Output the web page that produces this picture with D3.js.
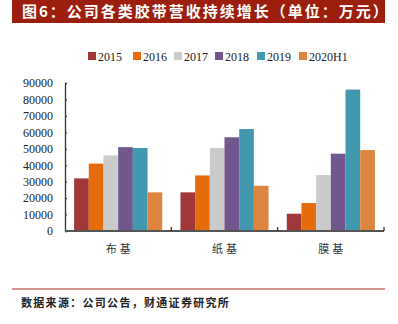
<!DOCTYPE html>
<html lang="zh">
<head>
<meta charset="UTF-8">
<title>公司各类胶带营收持续增长</title>
<script src="https://d3js.org/d3.v7.min.js"></script>
<style>
    body { margin: 0; background: #fff; }
    svg { display: block; }
</style>
</head>
<body>
<script>
    // data
    const categories = ["布基", "纸基", "膜基"];
    const years = ["2015", "2016", "2017", "2018", "2019", "2020H1"];
    const v2015 = [32000, 23500, 10500];
    const v2016 = [41000, 33800, 17000];
    const v2017 = [46000, 50500, 34000];
    const v2018 = [51000, 57000, 47000];
    const v2019 = [50500, 62000, 86000];
    const v2020H1 = [23500, 27500, 49200];
    const yTicks = [0, 10000, 20000, 30000, 40000, 50000, 60000, 70000, 80000, 90000];

    const series = [v2015, v2016, v2017, v2018, v2019, v2020H1];
    const colors = ["#a0383a", "#e46c0a", "#cbcbcb", "#72578f", "#4198af", "#dd853e"];

    const width = 398, height = 324;
    const margin = {top: 83, right: 14, bottom: 93, left: 65};

    const svg = d3.select("body").append("svg")
        .attr("width", width)
        .attr("height", height);

    // title banner
    svg.append("rect")
        .attr("x", 12).attr("y", 0)
        .attr("width", 373).attr("height", 23)
        .attr("fill", "#9c1e0d");
    svg.append("text")
        .attr("x", 22).attr("y", 17)
        .attr("fill", "#fff")
        .style("font-family", "'Noto Sans CJK SC'")
        .style("font-weight", "bold")
        .style("font-size", "15px")
        .style("letter-spacing", "2px")
        .text("图6：公司各类胶带营收持续增长（单位：万元）");

    const plotW = width - margin.left - margin.right;
    const plotH = height - margin.top - margin.bottom;
    const g = svg.append("g").attr("transform", `translate(${margin.left},${margin.top})`);

    const x0 = d3.scaleBand().domain(categories).range([0, plotW]);
    const x1 = d3.scaleBand().domain(years).range([0, x0.bandwidth()]).paddingOuter(0.62);
    const y = d3.scaleLinear().domain([0, 90000]).range([plotH, 0]);

    // y axis
    const yAxis = g.append("g")
        .call(d3.axisRight(y).tickValues(yTicks).tickSize(2).tickFormat(d => d3.format("d")(d)));
    yAxis.select(".domain").attr("stroke", "#333").attr("stroke-width", 1.3);
    yAxis.selectAll(".tick line").attr("stroke", "#333");
    yAxis.selectAll(".tick text")
        .attr("x", -12)
        .attr("text-anchor", "end")
        .attr("fill", "#222")
        .style("font-family", "'Liberation Serif', serif")
        .style("font-size", "12px");

    // bars
    categories.forEach((c, ci) => {
        years.forEach((yr, si) => {
            const v = series[si][ci];
            g.append("rect")
                .attr("x", x0(c) + x1(yr))
                .attr("y", y(v))
                .attr("width", x1.bandwidth())
                .attr("height", plotH - y(v))
                .attr("fill", colors[si]);
        });
    });

    // x axis
    const xAxis = g.append("g")
        .attr("transform", `translate(0,${plotH})`);
    xAxis.append("line")
        .attr("x1", 0).attr("x2", plotW)
        .attr("stroke", "#555").attr("stroke-width", 2);
    categories.forEach(c => {
        xAxis.append("line")
            .attr("x1", x0(c) + x0.bandwidth()).attr("x2", x0(c) + x0.bandwidth())
            .attr("y1", 0).attr("y2", -4)
            .attr("stroke", "#333").attr("stroke-width", 1.3);
        xAxis.append("text")
            .attr("x", x0(c) + x0.bandwidth() / 2 + 1.5)
            .attr("y", 22)
            .attr("text-anchor", "middle")
            .attr("fill", "#333")
            .style("font-family", "'Noto Sans CJK SC'")
            .style("font-size", "11px")
            .style("letter-spacing", "3px")
            .text(c);
    });

    // legend
    const legendX = [88, 133, 174, 215, 257, 299];
    const legend = svg.append("g").attr("transform", "translate(0,57)");
    years.forEach((yr, i) => {
        legend.append("rect")
            .attr("x", legendX[i]).attr("y", -5)
            .attr("width", 8).attr("height", 8)
            .attr("fill", colors[i]);
        legend.append("text")
            .attr("x", legendX[i] + 10).attr("y", 4)
            .attr("fill", "#222")
            .style("font-family", "'Liberation Serif', serif")
            .style("font-size", "12px")
            .text(yr);
    });

    // footer
    svg.append("line")
        .attr("x1", 12).attr("x2", 385)
        .attr("y1", 289).attr("y2", 289)
        .attr("stroke", "#a52a1a").attr("stroke-width", 1.2);
    svg.append("text")
        .attr("x", 21).attr("y", 307)
        .attr("fill", "#222")
        .style("font-family", "'Noto Sans CJK SC'")
        .style("font-weight", "bold")
        .style("font-size", "11px")
        .style("letter-spacing", "1.3px")
        .text("数据来源：公司公告，财通证券研究所");
</script>
</body>
</html>
